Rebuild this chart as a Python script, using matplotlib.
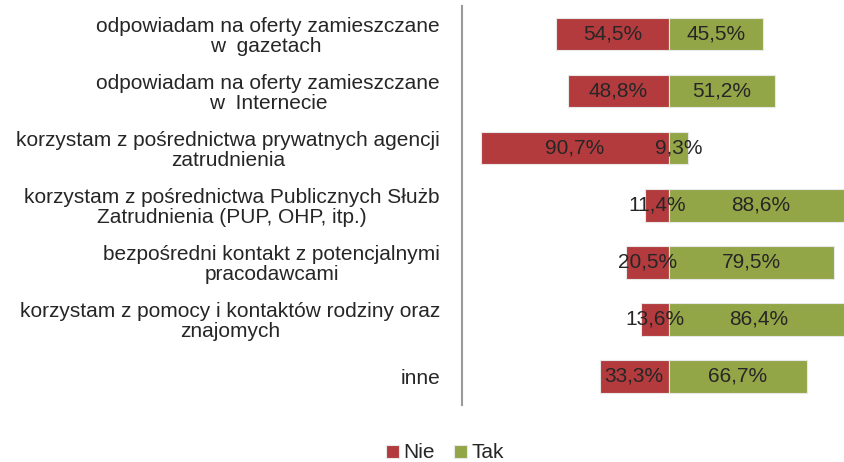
import matplotlib
matplotlib.use("Agg")
import matplotlib.pyplot as plt
import numpy as np

plt.rcParams['font.family'] = ['Liberation Sans', 'DejaVu Sans']

categories = [
    "odpowiadam na oferty zamieszczane\nw  gazetach ",
    "odpowiadam na oferty zamieszczane\nw  Internecie",
    "korzystam z pośrednictwa prywatnych agencji\nzatrudnienia",
    "korzystam z pośrednictwa Publicznych Służb\nZatrudnienia (PUP, OHP, itp.)",
    "bezpośredni kontakt z potencjalnymi\npracodawcami",
    "korzystam z pomocy i kontaktów rodziny oraz\nznajomych",
    "inne",
]
nie = [54.5, 48.8, 90.7, 11.4, 20.5, 13.6, 33.3]
tak = [45.5, 51.2, 9.3, 88.6, 79.5, 86.4, 66.7]

red = "#B33B3E"
green = "#93A647"

fig = plt.figure(figsize=(8.44, 4.62), dpi=100)
ax = fig.add_axes([461.5 / 844, 1 - 405 / 462, 1 - 461.5 / 844, (405 - 5.5) / 462])

y = np.arange(len(categories))
h = 0.57
bars_nie = ax.barh(y, [-v for v in nie], height=h, color=red,
                   edgecolor="#E8E8E8", linewidth=0.8, label="Nie")
bars_tak = ax.barh(y, tak, height=h, color=green,
                   edgecolor="#E8E8E8", linewidth=0.8, label="Tak")

for i in range(len(categories)):
    ax.text(-nie[i] / 2, y[i], f"{nie[i]:.1f}%".replace(".", ","),
            ha="center", va="center", fontsize=15, color="#262626")
    ax.text(tak[i] / 2, y[i], f"{tak[i]:.1f}%".replace(".", ","),
            ha="center", va="center", fontsize=15, color="#262626")

ax.set_xlim(-100, 84.5)
ax.set_ylim(len(categories) - 0.5, -0.5)
ax.set_yticks(y)
ax.set_yticklabels(categories, fontsize=15, color="#262626", linespacing=1.05)
for lab in ax.get_yticklabels():
    lab.set_multialignment("center")
ax.tick_params(axis="y", length=0, pad=15.5)
ax.set_xticks([])

for s in ["top", "right", "bottom"]:
    ax.spines[s].set_visible(False)
ax.spines["left"].set_color("#9A9A9A")
ax.spines["left"].set_linewidth(1.5)

fig.legend(handles=[bars_nie, bars_tak], labels=["Nie", "Tak"],
           loc="center", bbox_to_anchor=(445 / 844, 1 - 453 / 462),
           ncol=2, frameon=False, fontsize=15, handlelength=0.6,
           handleheight=0.6, handletextpad=0.2, columnspacing=0.95,
           labelcolor="#262626")

fig.savefig("out.png", dpi=100)
